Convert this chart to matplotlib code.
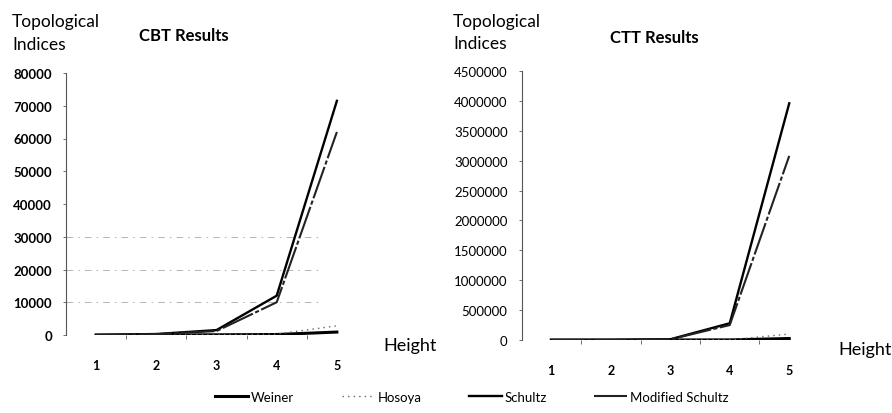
import numpy as np
import matplotlib
matplotlib.use("Agg")
import matplotlib.pyplot as plt
from matplotlib.ticker import FixedLocator

plt.rcParams['font.family'] = ['Lato', 'DejaVu Sans']

# Data
heights = [1, 2, 3, 4, 5]
height_labels = ["1", "2", "3", "4", "5"]

cbt_weiner = [0, 10, 60, 150, 900]
cbt_hosoya = [0, 20, 80, 300, 2800]
cbt_schultz = [0, 300, 1500, 12000, 71500]
cbt_mod_schultz = [0, 250, 1200, 10000, 62000]

ctt_weiner = [0, 50, 500, 2000, 25000]
ctt_hosoya = [0, 100, 1000, 4000, 100000]
ctt_schultz = [100, 1000, 12000, 280000, 3960000]
ctt_mod_schultz = [80, 800, 10000, 250000, 3080000]

cbt_yticks = [0, 10000, 20000, 30000, 40000, 50000, 60000, 70000, 80000]
ctt_yticks = [0, 500000, 1000000, 1500000, 2000000, 2500000, 3000000,
              3500000, 4000000, 4500000]
cbt_grid = [10000, 20000, 30000]

series_names = ["Weiner", "Hosoya", "Schultz", "Modified Schultz"]
styles = [
    dict(color="black", lw=2.2, ls="-"),
    dict(color="#666666", lw=1.0, ls=(0, (1, 3))),
    dict(color="black", lw=1.7, ls="-"),
    dict(color="#222222", lw=1.5, ls=(0, (16, 1.2, 2, 1.2))),
]

fig = plt.figure(figsize=(8.92, 4.14), dpi=100)
W, H = 892, 414


def make_axes(x0, x1, y0, y1):
    return fig.add_axes([x0 / W, 1 - y0 / H, (x1 - x0) / W, (y0 - y1) / H])


ax1 = make_axes(66, 367, 336, 74)
ax2 = make_axes(521.5, 819, 341, 72)


def style_axes(ax, yticks, ymax, bold):
    ax.set_xlim(0.5, 5.5)
    ax.set_ylim(0, ymax)
    for s in ["top", "right", "bottom"]:
        ax.spines[s].set_visible(False)
    ax.spines["left"].set_color("#555555")
    ax.spines["left"].set_linewidth(0.8)
    ax.set_yticks(yticks)
    ax.set_yticklabels([str(v) for v in yticks],
                       fontsize=9.5, fontweight="bold" if bold else "normal")
    ax.tick_params(axis="y", length=2, width=0.6, color="#555555", pad=8)
    ax.set_xticks(heights)
    ax.set_xticklabels(height_labels, fontsize=9, fontweight="bold")
    ax.tick_params(axis="x", which="major", length=0, pad=17)
    ax.xaxis.set_minor_locator(FixedLocator([1.5, 2.5, 3.5, 4.5]))
    ax.tick_params(axis="x", which="minor", length=3, width=0.6,
                   color="#555555")
    ax.patch.set_alpha(0)


style_axes(ax1, cbt_yticks, 80000, True)
style_axes(ax2, ctt_yticks, 4500000, False)

for g in cbt_grid:
    ax1.axhline(g, xmax=0.85, color="#aaaaaa", lw=0.6,
                ls=(0, (8, 6, 2, 6)), zorder=0)

cbt = [cbt_weiner, cbt_hosoya, cbt_schultz, cbt_mod_schultz]
ctt = [ctt_weiner, ctt_hosoya, ctt_schultz, ctt_mod_schultz]
handles = []
for name, st, a, b in zip(series_names, styles, cbt, ctt):
    h, = ax1.plot(heights, a, label=name, **st)
    ax2.plot(heights, b, **st)
    handles.append(h)

# titles and axis captions
fig.text(12 / W, 1 - 22 / H, "Topological", fontsize=12.5, va="center")
fig.text(12 / W, 1 - 45 / H, "Indices", fontsize=12.5, va="center")
fig.text(184 / W, 1 - 36 / H, "CBT Results", fontsize=12, fontweight="bold",
         ha="center", va="center")
fig.text(383 / W, 1 - 346 / H, "Height", fontsize=13, va="center")

fig.text(453 / W, 1 - 22 / H, "Topological", fontsize=12.5, va="center")
fig.text(453 / W, 1 - 44 / H, "Indices", fontsize=12.5, va="center")
fig.text(654 / W, 1 - 38 / H, "CTT Results", fontsize=12, fontweight="bold",
         ha="center", va="center")
fig.text(838 / W, 1 - 350 / H, "Height", fontsize=13, va="center")

fig.legend(handles=handles, labels=series_names, loc="center",
           bbox_to_anchor=(472 / W, 1 - 398 / H), ncol=4, frameon=False,
           fontsize=9.5, handlelength=2.5, handletextpad=0.2,
           columnspacing=3.6)

fig.savefig("out.png", dpi=100)
